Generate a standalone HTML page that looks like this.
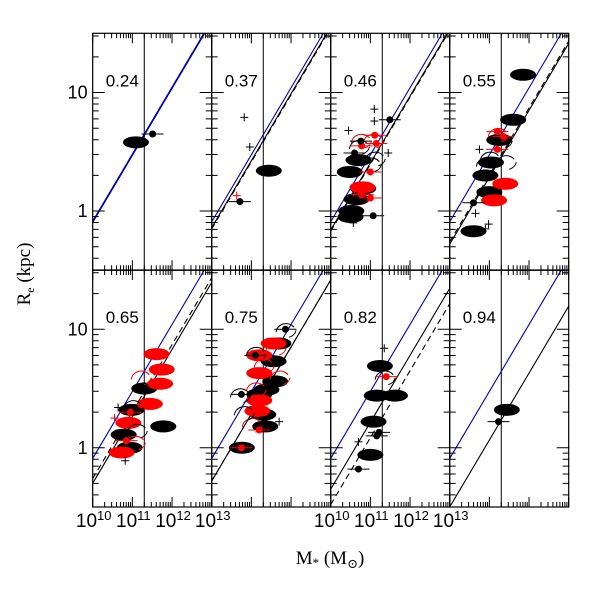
<!DOCTYPE html>
<html><head><meta charset="utf-8"><style>
html,body{margin:0;padding:0;background:#fff;}
svg{display:block;font-family:"Liberation Serif","DejaVu Serif",serif;}
</style></head><body>
<svg id="chart" width="600" height="600" viewBox="0 0 600 600" xmlns="http://www.w3.org/2000/svg">
<g id="marks"></g>
<g id="frames"></g>
<text transform="translate(30,274) rotate(-90)" text-anchor="middle" font-size="19">R<tspan font-size="12" dy="4">e</tspan><tspan dy="-4"> (kpc)</tspan></text>
<text x="330" y="564" text-anchor="middle" font-size="19">M<tspan font-size="13" dy="3">*</tspan><tspan dy="-3"> (M</tspan><tspan font-size="13" dy="4">⊙</tspan><tspan dy="-4">)</tspan></text>
</svg>
<script>
// ---- data ----
const redshifts = ["0.24","0.37","0.46","0.55","0.65","0.75","0.82","0.94"];
const blueIntercept  = [-0.09,-0.09,-0.09,-0.09,-0.09,-0.09,-0.09,-0.09];
const solidIntercept = [-0.09,-0.14,-0.16,-0.28,-0.30,-0.28,-0.35,-0.50];
const dashIntercept  = [-0.09,-0.15,-0.17,-0.26,-0.26,-0.28,-0.48,null];
const slope = 0.565;
const xTickLabels = ["10","11","12","13"];
const yTickLabels = ["1","10"];
// ellipses: [panel, logM, logR, color]
const ellipses = [
 [0,11.09,0.58,"k"],
 [1,11.44,0.34,"k"],
 [2,10.48,0.33,"k"],[2,10.52,0.0,"k"],[2,10.5,-0.05,"k"],[2,10.82,0.19,"k"],[2,10.65,0.10,"k"],[2,10.7,0.43,"k"],[2,10.8,0.2,"r"],
 [3,11.85,1.15,"k"],[3,11.6,0.77,"k"],[3,10.6,-0.17,"k"],[3,11.04,0.41,"k"],[3,10.9,0.3,"k"],[3,11.0,0.16,"k"],[3,11.25,0.6,"k"],[3,11.4,0.23,"r"],[3,11.12,0.09,"r"],
 [4,11.78,0.18,"k"],[4,10.98,0.32,"k"],[4,10.78,0.11,"k"],[4,10.93,0.0,"k"],[4,11.3,0.5,"k"],
 [4,11.61,0.79,"r"],[4,11.74,0.66,"r"],[4,11.7,0.54,"r"],[4,11.44,0.37,"r"],[4,10.9,0.21,"r"],[4,10.73,-0.04,"r"],
 [5,11.68,0.88,"k"],[5,11.56,0.73,"k"],[5,11.6,0.56,"k"],[5,11.38,0.49,"k"],[5,11.2,0.45,"k"],[5,11.3,0.28,"k"],[5,11.35,0.18,"k"],[5,10.76,0.0,"k"],
 [5,11.56,0.88,"r"],[5,11.2,0.63,"r"],[5,11.2,0.4,"r"],[5,11.15,0.31,"r"],[5,11.2,0.78,"r"],
 [6,11.24,0.69,"k"],[6,11.16,0.44,"k"],[6,11.62,0.44,"k"],[6,11.08,0.22,"k"],[6,11.0,-0.06,"k"],
 [7,11.44,0.32,"k"]
];
// points with x error bars: [panel, logM, logR, color]
const points = [
 [0,11.51,0.65,"k"],
 [1,10.71,0.08,"k"],
 [2,11.11,0.64,"r"],[2,10.78,0.55,"r"],[2,11.0,0.33,"r"],[2,10.78,0.14,"r"],[2,11.0,0.11,"r"],[2,11.15,0.57,"r"],
 [2,11.49,0.77,"k"],[2,11.07,-0.04,"k"],[2,10.76,0.59,"k"],[2,10.6,0.49,"k"],
 [3,11.2,0.67,"r"],[3,11.35,0.63,"r"],[3,11.2,0.52,"r"],[3,10.6,0.07,"k"],
 [4,10.95,0.3,"r"],[4,10.85,0.06,"r"],
 [5,11.86,1.0,"k"],[5,11.1,0.78,"k"],[5,10.75,0.45,"k"],[5,11.2,0.15,"r"],[5,10.75,0.0,"r"],
 [6,11.4,0.6,"r"],[6,11.16,0.1,"k"],[6,11.22,0.13,"k"],[6,10.7,-0.18,"k"],
 [7,11.23,0.22,"k"]
];
// plus signs: [panel, logM, logR, color]
const pluses = [
 [1,10.82,0.79,"k"],[1,10.96,0.54,"k"],[1,10.63,0.13,"r"],
 [2,11.1,0.86,"k"],[2,11.1,0.76,"k"],[2,10.45,0.68,"k"],[2,11.45,0.49,"k"],[2,10.57,-0.1,"k"],
 [3,10.65,-0.02,"k"],[3,10.98,-0.11,"k"],[3,10.9,-0.15,"k"],[3,10.75,0.52,"k"],
 [4,10.64,0.34,"k"],[4,10.55,0.25,"r"],[4,10.82,-0.11,"k"],[4,10.95,0.3,"r"],
 [5,11.7,0.22,"k"],
 [6,11.35,0.84,"k"],[6,10.7,0.05,"k"]
];
// arcs: [panel, logM, logR, color]
const arcs = [
 [2,10.75,0.6,"r"],[2,10.7,0.55,"k"],[2,11.0,0.4,"k"],[2,11.1,0.45,"k"],[2,10.8,0.15,"r"],[2,11.05,0.6,"r"],
 [3,11.2,0.65,"r"],[3,11.3,0.6,"k"],[3,11.0,0.45,"k"],[3,11.4,0.42,"k"],[3,10.9,0.4,"k"],
 [4,11.0,0.35,"k"],[4,11.1,0.15,"k"],[4,11.2,0.6,"r"],[4,11.05,0.05,"r"],
 [5,11.85,1.0,"k"],[5,11.1,0.8,"k"],[5,11.3,0.7,"r"],[5,11.6,0.85,"r"],[5,10.7,0.45,"k"],[5,11.1,0.5,"r"],[5,11.0,0.2,"r"],[5,11.7,0.6,"r"],[5,10.8,0.3,"k"],
 [6,11.35,0.6,"k"]
];
// ---- layout ----
const PL=[92.7,211.7,330.7,449.7], PT=[33.3,270], PW=119, PH=237;
const X0=10,X1=13,Y0=-0.5,Y1=1.5;
const NS="http://www.w3.org/2000/svg";
function px(p){return PL[p%4];} function py(p){return PT[Math.floor(p/4)];}
function sx(p,m){return px(p)+(m-X0)/(X1-X0)*PW;}
function sy(p,r){return py(p)+(Y1-r)/(Y1-Y0)*PH;}
function mk(tag,attrs,parent){const e=document.createElementNS(NS,tag);for(const k in attrs)e.setAttribute(k,attrs[k]);parent.appendChild(e);return e;}
const marks=document.getElementById('marks'), frames=document.getElementById('frames');
const col=c=>c==="r"?"#ff0000":"#000000";

for(let p=0;p<8;p++){
  const g=mk('g',{},marks);
  
  
  const cp=mk('clipPath',{id:'cp'+p},g);
  mk('rect',{x:px(p),y:py(p),width:PW,height:PH},cp);
  const inner=mk('g',{'clip-path':'url(#cp'+p+')'},g);
  const vl=mk('line',{x1:sx(p,11.3),x2:sx(p,11.3),y1:py(p),y2:py(p)+PH,stroke:'#000','stroke-width':1},inner);
  
  
  const lines=[[solidIntercept[p],'#000',''],[dashIntercept[p],'#000','6,4'],[blueIntercept[p],'#0000cc','']];
  lines.forEach((L,i)=>{ if(L[0]===null)return;
    const a=L[0]; const l=mk('line',{x1:sx(p,X0),y1:sy(p,a),x2:sx(p,X1),y2:sy(p,a+slope*(X1-X0)),stroke:L[1],'stroke-width':p===0?1.6:1.1},inner);
    if(L[2])l.setAttribute('stroke-dasharray',L[2]);
    
    
  });
  ellipses.filter(e=>e[0]===p).forEach(e=>{
    const el=mk('ellipse',{cx:sx(p,e[1]),cy:sy(p,e[2]),rx:13,ry:6,fill:col(e[3])},inner);
    
    
  });
  arcs.filter(e=>e[0]===p).forEach(e=>{
    const x=sx(p,e[1]),y=sy(p,e[2]);
    const a=mk('path',{d:`M${x-9},${y+3} A10,9 0 0,1 ${x+9},${y-2} M${x+4},${y+8} A10,9 0 0,0 ${x+11},${y+1}`,fill:'none',stroke:col(e[3]),'stroke-width':1},inner);
    
    
  });
  points.filter(e=>e[0]===p).forEach(e=>{
    const x=sx(p,e[1]),y=sy(p,e[2]);
    const eb=mk('line',{x1:x-11,x2:x+11,y1:y,y2:y,stroke:col(e[3]),'stroke-width':1},inner);
    
    
    const c=mk('circle',{cx:x,cy:y,r:3.5,fill:col(e[3])},inner);
    
    
  });
  pluses.filter(e=>e[0]===p).forEach(e=>{
    const x=sx(p,e[1]),y=sy(p,e[2]);
    const pl=mk('path',{d:`M${x-4},${y}H${x+4}M${x},${y-4}V${y+4}`,stroke:col(e[3]),'stroke-width':1},inner);
    
    
  });
  const lab=mk('text',{x:px(p)+13,y:py(p)+53,'font-size':17,'font-family':'"Liberation Sans",sans-serif'},g);
  lab.textContent=redshifts[p];
  
  

  const fr=mk('rect',{x:px(p),y:py(p),width:PW,height:PH,fill:'none',stroke:'#000','stroke-width':1.2},frames);
  
  
  let d='';
  for(let dec=10;dec<13;dec++){for(let k=1;k<=10;k++){const m=dec+Math.log10(k);const x=sx(p,m);const len=(k===1||k===10)?10:5;
    d+=`M${x},${py(p)}v${len}M${x},${py(p)+PH}v${-len}`;}}
  for(let dec=-1;dec<2;dec++){for(let k=1;k<10;k++){const r=dec+Math.log10(k);if(r<Y0||r>Y1)continue;const y=sy(p,r);const len=k===1?12:6;
    d+=`M${px(p)},${y}h${len}M${px(p)+PW},${y}h${-len}`;}}
  const tk=mk('path',{d:d,stroke:'#000','stroke-width':1,fill:'none'},frames);
  
  
}
[0,4].forEach(p=>{yTickLabels.forEach(t=>{
  const tx=mk('text',{x:px(p)-5,y:sy(p,Math.log10(+t))+6,'text-anchor':'end','font-size':18,'font-family':'"Liberation Sans",sans-serif'},frames);
  tx.textContent=t;
  
  
});});
[4,6].forEach(p=>{xTickLabels.forEach(t=>{
  const tx=mk('text',{x:sx(p,+t)+1,y:527,'text-anchor':'middle','font-size':19,'font-family':'"Liberation Sans",sans-serif'},frames);
  tx.textContent="10";
  const s=mk('tspan',{'font-size':13,dy:-7},tx); s.textContent=t;
  
  
});});
</script>
</body></html>
